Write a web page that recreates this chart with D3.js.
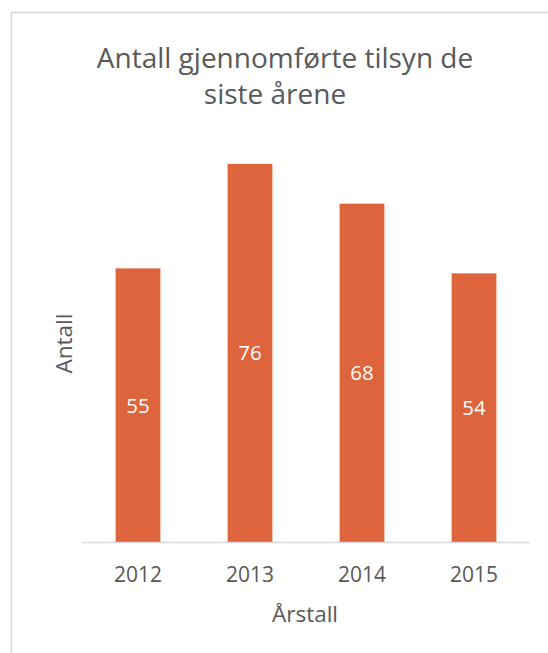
<html>
<head>
<style>
  body { margin: 0; background: #fff; }
  text { font-family: 'Open Sans', 'Noto Sans', sans-serif; fill: #595959; }
</style>
</head>
<body>
  <div id = 'chart'></div>
  <script src = 'https://cdn.jsdelivr.net/npm/d3@7/dist/d3.min.js'></script>
  <script>
    // data
    var years = ['2012', '2013', '2014', '2015'];
    var counts = [55, 76, 68, 54];
    var titleLines = ['Antall gjennomførte tilsyn de', 'siste årene'];

    var width = 548,
        height = 653,
        barColor = '#dd643c',
        gridColor = '#d9d9d9';

    var svg = d3.select('#chart').append('svg')
      .attr('width', width)
      .attr('height', height);

    // chart frame (runs off the right and bottom edges)
    svg.append('rect')
      .attr('x', 11.5)
      .attr('y', 12.5)
      .attr('width', 700)
      .attr('height', 800)
      .attr('fill', 'none')
      .attr('stroke', gridColor)
      .attr('stroke-width', 1.5);

    var x = d3.scaleBand()
      .domain(years)
      .range([82, 530])
      .paddingInner(0.6)
      .paddingOuter(0.3);

    var y = d3.scaleLinear()
      .domain([0, 80])
      .range([542, 144]);

    // title
    svg.selectAll('.title')
      .data(titleLines)
      .enter()
      .append('text')
      .attr('class', 'title')
      .attr('x', function(d, i){ return i === 0 ? 285 : 275; })
      .attr('y', function(d, i){ return 68 + i * 36; })
      .attr('text-anchor', 'middle')
      .style('font-size', '28px')
      .text(function(d){ return d; });

    // bars
    svg.selectAll('.bar')
      .data(counts)
      .enter()
      .append('rect')
      .attr('class', 'bar')
      .attr('x', function(d, i){ return x(years[i]); })
      .attr('width', x.bandwidth())
      .attr('y', function(d){ return y(d); })
      .attr('height', function(d){ return y(0) - y(d); })
      .attr('fill', barColor);

    // value labels in the middle of each bar
    svg.selectAll('.value')
      .data(counts)
      .enter()
      .append('text')
      .attr('class', 'value')
      .attr('x', function(d, i){ return x(years[i]) + x.bandwidth() / 2; })
      .attr('y', function(d){ return (y(d) + y(0)) / 2; })
      .attr('dy', '0.36em')
      .attr('text-anchor', 'middle')
      .style('font-size', '20.5px')
      .style('fill', '#ffffff')
      .text(function(d){ return d; });

    // x axis
    var xAxis = svg.append('g')
      .attr('transform', 'translate(0,' + y(0) + ')')
      .call(d3.axisBottom(x).tickSize(0).tickSizeOuter(0));
    xAxis.select('.domain')
      .attr('stroke', gridColor)
      .attr('stroke-width', 1.5);
    xAxis.selectAll('.tick text')
      .attr('dy', null)
      .attr('y', 40)
      .style('font-size', '21px')
      .style('font-family', "'Open Sans', 'Noto Sans', sans-serif")
      .style('fill', '#595959');

    // axis titles
    svg.append('text')
      .attr('x', 305)
      .attr('y', 622)
      .attr('text-anchor', 'middle')
      .style('font-size', '22.5px')
      .text('Årstall');

    svg.append('text')
      .attr('transform', 'translate(72,343.5) rotate(-90)')
      .attr('text-anchor', 'middle')
      .style('font-size', '22.5px')
      .text('Antall');
  </script>
</body>
</html>
